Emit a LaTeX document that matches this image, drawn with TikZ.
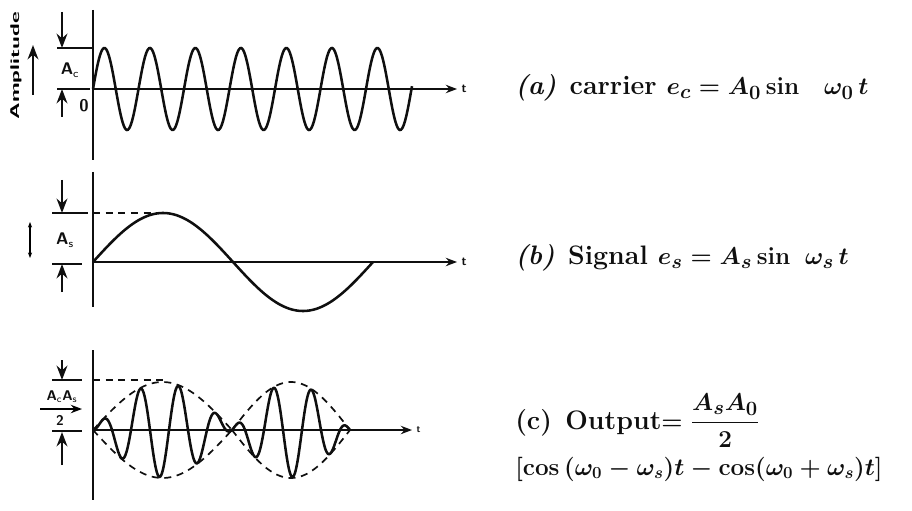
\documentclass[tikz,border=0pt]{standalone}
\usepackage{amsmath}
\usepackage{tikz}
\usetikzlibrary{arrows.meta, positioning, calc}
\definecolor{ink}{RGB}{15,15,15}
\tikzset{
  axis/.style={-Stealth, line width=1.1pt, color=ink},
  openaxis/.style={-{Stealth[open]}, line width=1.1pt, color=ink},
  yaxis/.style={line width=1.4pt, color=ink},
  wave/.style={line width=1.8pt, color=ink},
  envelope/.style={line width=1.2pt, color=ink, dash pattern=on 5pt off 4pt},
  tick/.style={line width=1.1pt, color=ink},
  dimarrow/.style={-Stealth, line width=1.6pt, color=ink},
  lbl/.style={font=\sffamily\bfseries\large, color=ink, inner sep=1pt},
  caption/.style={font=\fontsize{19}{23}\selectfont\bfseries\boldmath, anchor=base west, color=ink, inner sep=0pt}
}

\begin{document}
\begin{tikzpicture}[x=0.025cm, y=-0.025cm]
  \useasboundingbox (0,0) rectangle (912,511);

  % (a) Carrier
  \coordinate (ya0) at (93,10);
  \coordinate (ya1) at (93,160);
  \coordinate (xa0) at (93,89);
  \coordinate (xa1) at (457,89);
  \draw[yaxis] (ya0) -- (ya1);
  \draw[axis] (xa0) -- (xa1);
  \node[lbl, right=2pt of xa1, font=\sffamily\bfseries\small] (ta) {t};
  \draw[wave] plot[domain=93:412, samples=320] (\x, {89-41*sin((\x-93)/45.5*360)});
  \node[rotate=90, font=\sffamily\bfseries\small] (amp) at (16,66) {\scalebox{1.8}[1]{Amplitude}};
  \draw[dimarrow] (33,95) -- (33,45);
  \draw[tick] (57,48) -- (93,48);
  \draw[dimarrow] (62,12) -- (62,48);
  \draw[tick] (57,89) -- (90,89);
  \draw[dimarrow] (62,117) -- (62,89);
  \node[lbl] (ac) at (70,70) {A$_\mathsf{c}$};
  \node[lbl] (za) at (84,106) {0};
  \node[caption] (capa) at (515,95) {\textit{(a)}\enspace carrier $e_c = A_0 \sin\ \ \omega_0\, t$};

  % (b) Signal
  \coordinate (yb0) at (93,172);
  \coordinate (yb1) at (93,307);
  \coordinate (xb0) at (93,262);
  \coordinate (xb1) at (457,262);
  \draw[yaxis] (yb0) -- (yb1);
  \draw[openaxis] (xb0) -- (xb1);
  \node[lbl, right=2pt of xb1, font=\sffamily\bfseries\small] (tb) {t};
  \draw[wave] plot[domain=93:373, samples=200] (\x, {262-49*sin((\x-93)/280*360)});
  \draw[envelope] (93,213) -- (163,213);
  \draw[{Stealth[length=4pt]}-{Stealth[length=4pt]}, line width=1.6pt] (30,222) -- (30,258);
  \draw[tick] (52,213) -- (88,213);
  \draw[dimarrow] (62,180) -- (62,213);
  \draw[tick] (52,264) -- (82,264);
  \draw[dimarrow] (62,292) -- (62,264);
  \node[lbl] (as) at (65,240) {A$_\mathsf{s}$};
  \node[caption] (capb) at (515,265) {\textit{(b)}\enspace Signal $e_s = A_s \sin\ \omega_s\, t$};

  % (c) Output
  \coordinate (yc0) at (93,350);
  \coordinate (yc1) at (93,500);
  \coordinate (xc0) at (93,430);
  \coordinate (xc1) at (412,430);
  \draw[yaxis] (yc0) -- (yc1);
  \draw[axis] (xc0) -- (xc1);
  \node[lbl, right=2pt of xc1, font=\sffamily\bfseries\scriptsize] (tc) {t};
  \draw[wave] plot[domain=93:232, samples=220] (\x, {430-47*sin((\x-93)/139*180)*sin((\x-93)/38*360)});
  \draw[wave] plot[domain=232:350, samples=200] (\x, {430+47*sin((\x-232)/118*180)*sin((\x-93)/38*360)});
  \draw[envelope] plot[domain=93:232, samples=60] (\x, {430-48*sin((\x-93)/139*180)});
  \draw[envelope] plot[domain=93:232, samples=60] (\x, {430+48*sin((\x-93)/139*180)});
  \draw[envelope] plot[domain=232:350, samples=60] (\x, {430-48*sin((\x-232)/118*180)});
  \draw[envelope] plot[domain=232:350, samples=60] (\x, {430+48*sin((\x-232)/118*180)});
  \draw[envelope] (93,380) -- (165,380);
  \draw[tick] (52,380) -- (82,380);
  \draw[dimarrow] (62,360) -- (62,380);
  \node[lbl, font=\sffamily\bfseries\normalsize] (acs) at (62,397) {A$_\mathsf{c}$A$_\mathsf{s}$};
  \draw[-Stealth, line width=1.1pt] (40,409) -- (82,409);
  \node[lbl, font=\sffamily\bfseries\normalsize] (two) at (60,420) {2};
  \draw[tick] (52,431) -- (82,431);
  \draw[dimarrow] (62,465) -- (62,432);
  \node[caption] (capc) at (515,429) {(c)\enspace Output$=\dfrac{A_s A_0}{2}$};
  \node[caption, font=\fontsize{17.5}{21}\selectfont\bfseries\boldmath] (capc2) at (515,475) {$[\cos\,(\omega_0-\omega_s)t-\cos(\omega_0+\omega_s)t]$};
\end{tikzpicture}
\end{document}
